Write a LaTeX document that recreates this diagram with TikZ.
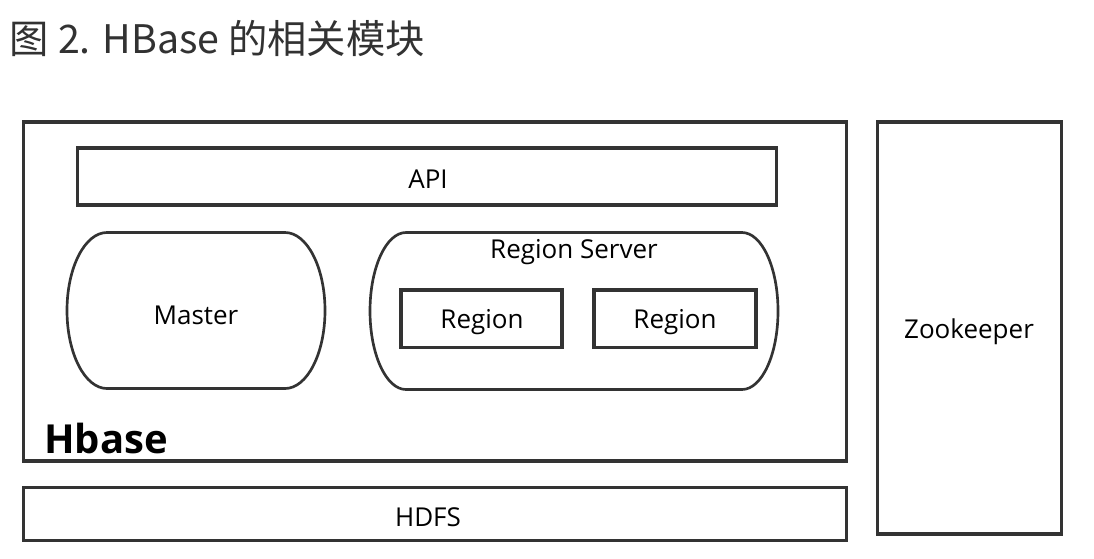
\documentclass[tikz,border=0pt]{standalone}
\usepackage{fontspec}
\setmainfont{Open Sans}
\newfontfamily\cjk{Noto Sans CJK SC}
\definecolor{frame}{RGB}{51,51,51}
\definecolor{titlegray}{RGB}{50,50,50}
\tikzset{every picture/.style={line width=0.75pt}}
\tikzset{
  boxline/.style={draw=frame, line width=2.3pt},
  roundline/.style={draw=frame, line width=2pt},
  lbl/.style={font=\fontsize{19.5}{22}\selectfont, text=black}
}

\begin{document}
\begin{tikzpicture}[x=0.75pt,y=0.75pt,yscale=-1,xscale=1]
	\useasboundingbox (0,0) rectangle (1094,558);

	%Shape: Rectangle [Hbase]
	\draw [boxline] (23.5,122) rectangle (846.5,461) ;
	%Shape: Rectangle [API]
	\draw [boxline] (77.5,148) rectangle (776.5,205) ;
	%Shape: Rounded [Master]
	\draw [roundline] (107,232.5) -- (285,232.5) arc[start angle=-90, end angle=90, x radius=40, y radius=78] -- (107,388.5) arc[start angle=90, end angle=270, x radius=40, y radius=78] -- cycle ;
	%Shape: Rounded [Region Server]
	\draw [roundline] (406,232.5) -- (742,232.5) arc[start angle=-90, end angle=90, x radius=36, y radius=78.5] -- (406,389.5) arc[start angle=90, end angle=270, x radius=36, y radius=78.5] -- cycle ;
	%Shape: Rectangle [Region 1]
	\draw [boxline] (401,290) rectangle (562,347.5) ;
	%Shape: Rectangle [Region 2]
	\draw [boxline] (594,290) rectangle (756,347.5) ;
	%Shape: Rectangle [HDFS]
	\draw [boxline] (23.5,487.5) rectangle (846.5,540.5) ;
	%Shape: Rectangle [Zookeeper]
	\draw [boxline] (877.5,122) rectangle (1061.5,534) ;

	% Text Node
	\draw (5,39) node [anchor=west, text=titlegray, font=\cjk\fontsize{29.5}{33}\selectfont] (title) {图 2. HBase 的相关模块};
	% Text Node
	\draw (428,179) node [lbl] (api) {API};
	% Text Node
	\draw (196,315) node [lbl] (master) {Master};
	% Text Node
	\draw (574,252.5) node [lbl] (rs) {Region Server};
	% Text Node
	\draw (482,322.5) node [lbl] (reg1) {Region};
	% Text Node
	\draw (675,322.5) node [lbl] (reg2) {Region};
	% Text Node
	\draw (969,331.5) node [lbl] (zk) {Zookeeper};
	% Text Node
	\draw (428,517) node [lbl] (hdfs) {HDFS};
	% Text Node
	\draw (106,438) node [font=\bfseries\fontsize{30}{33}\selectfont] (hbase) {Hbase};

\end{tikzpicture}
\end{document}
